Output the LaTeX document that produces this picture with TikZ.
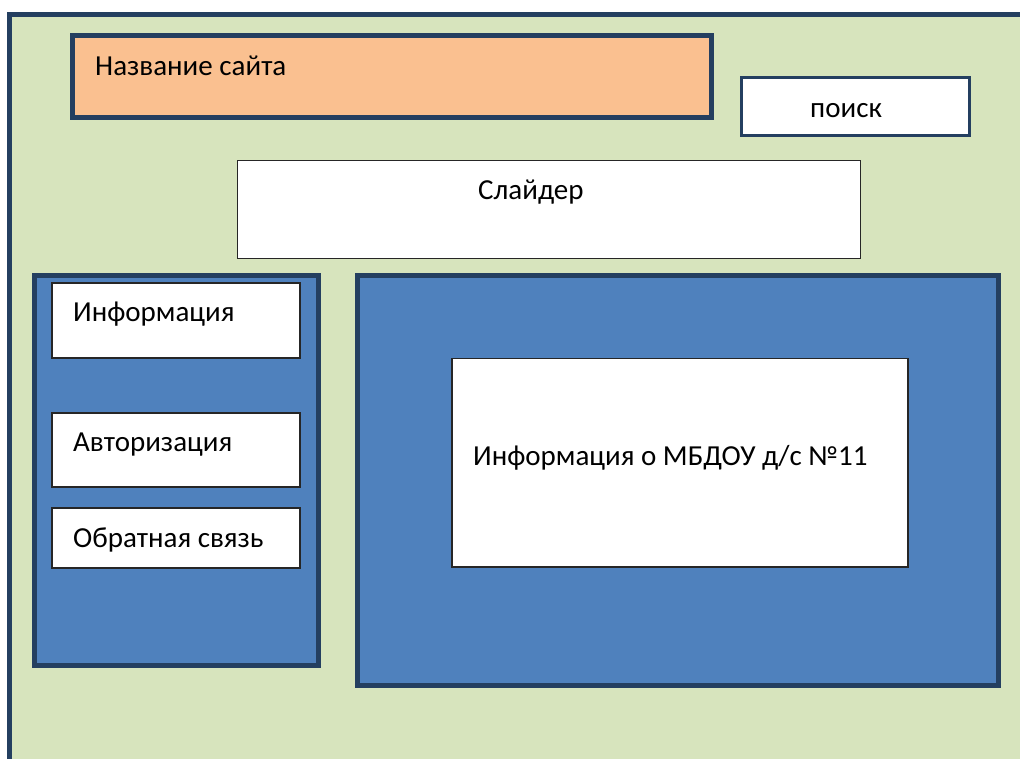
\documentclass[tikz,border=0pt]{standalone}
\usepackage{fontspec}
\setmainfont{Carlito}
\usepackage{tikz}
\definecolor{ColorFon}{HTML}{D7E4BD}
\definecolor{ColorRam}{HTML}{243F60}
\definecolor{ColorTitul}{HTML}{FAC090}
\definecolor{ColorPanel}{HTML}{4F81BD}
\begin{document}
\begin{tikzpicture}[x=1pt,y=-1pt,
        ramka/.style={draw=ColorRam, line width=5pt},
        okno/.style={draw=black!85, fill=white, line width=1.5pt},
        txt/.style={inner sep=0pt, anchor=base west, font=\fontsize{29}{34}\selectfont}]
        \useasboundingbox (0,0) rectangle (1020,758);
        \clip (0,0) rectangle (1020,758);
        \fill[white] (-10,-10) rectangle (1040,780);
        %Fon
        \fill[ColorFon] (9.5,14.5) rectangle (1040,780);
        \draw[ramka] (9.5,780) -- (9.5,14.5) -- (1040,14.5);
        %Shapka
        \filldraw[ramka, fill=ColorTitul] (72,35.5) rectangle (711.5,117.5);
        \node[txt] (titul) at (95,75) {Название сайта};
        \filldraw[draw=ColorRam, fill=white, line width=3pt] (741.5,77.5) rectangle (969.5,135.5);
        \node[txt] (poisk) at (810,117) {поиск};
        %Slajder
        \filldraw[okno] (237.5,160.5) rectangle (860.5,258.5);
        \node[txt] (slajder) at (478,199) {Слайдер};
        %Levaja panel
        \filldraw[ramka, fill=ColorPanel] (34.5,275.5) rectangle (318,665);
        \filldraw[okno] (52,283) rectangle (300,358);
        \node[txt] (info) at (73,321) {Информация};
        \filldraw[okno] (52,413) rectangle (300,487);
        \node[txt] (avtor) at (73,451) {Авторизация};
        \filldraw[okno] (52,508) rectangle (300,568);
        \node[txt] (svjaz) at (73,547) {Обратная связь};
        %Osnovnaja panel
        \filldraw[ramka, fill=ColorPanel] (357.5,275.5) rectangle (998.5,685.5);
        \filldraw[okno] (452,358.5) rectangle (908,567);
        \node[txt] (mbdou) at (473,465) {Информация о МБДОУ д/с №11};
    \end{tikzpicture}
\end{document}
